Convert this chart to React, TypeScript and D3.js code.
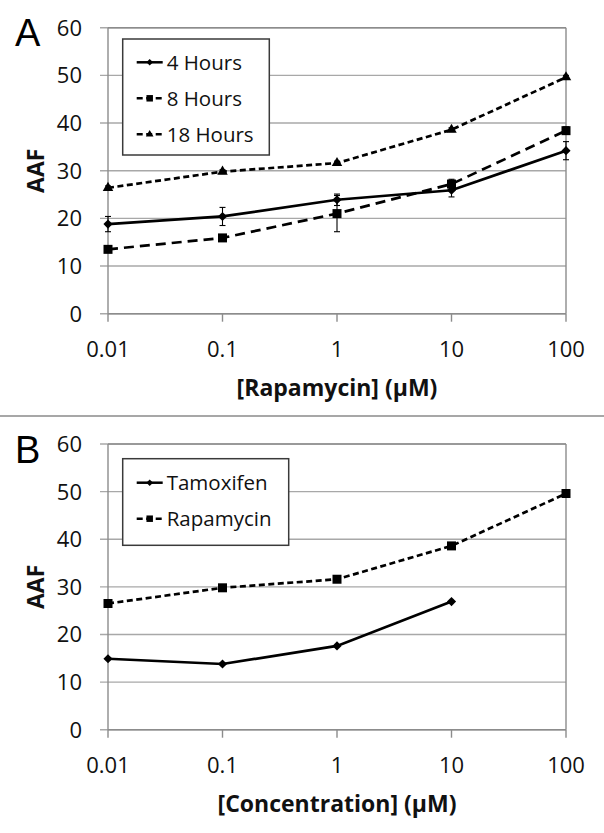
import React from "react";
import * as d3 from "d3";

const concentrations = [0.01, 0.1, 1, 10, 100];
const xTickLabels = ["0.01", "0.1", "1", "10", "100"];
const yTicks = [0, 10, 20, 30, 40, 50, 60];

const hours4 = [18.8, 20.4, 23.9, 25.9, 34.2];
const hours4Err = [1.6, 1.9, 1.2, 1.4, 1.9];
const hours8 = [13.5, 15.9, 21.0, 27.2, 38.4];
const hours8Err = [0.5, 0.5, 3.8, 1.0, 0.8];
const hours18 = [26.4, 29.8, 31.6, 38.6, 49.6];
const hours18Err = [0.4, 0.4, 0.4, 0.4, 0.4];

const tamoxifenConc = [0.01, 0.1, 1, 10];
const tamoxifen = [14.9, 13.8, 17.6, 26.9];
const rapamycinConc = [0.01, 0.1, 1, 10, 100];
const rapamycin = [26.5, 29.8, 31.6, 38.6, 49.6];

type Marker = "diamond" | "square" | "triangle";
interface Series {
  name: string;
  x: number[];
  y: number[];
  err?: number[];
  dash: string;
  marker: Marker;
}

const seriesA: Series[] = [
  { name: "4 Hours", x: concentrations, y: hours4, err: hours4Err, dash: "", marker: "diamond" },
  { name: "8 Hours", x: concentrations, y: hours8, err: hours8Err, dash: "10,6", marker: "square" },
  { name: "18 Hours", x: concentrations, y: hours18, err: hours18Err, dash: "6,3.5", marker: "triangle" },
];
const seriesB: Series[] = [
  { name: "Tamoxifen", x: tamoxifenConc, y: tamoxifen, dash: "", marker: "diamond" },
  { name: "Rapamycin", x: rapamycinConc, y: rapamycin, dash: "6,3.5", marker: "square" },
];

const FONT = "'Open Sans', 'Liberation Sans', sans-serif";

function markerPath(m: Marker, scale: number): { d: string; rot: number } {
  if (m === "diamond") return { d: d3.symbol(d3.symbolSquare, 42 * scale * scale)() || "", rot: 45 };
  if (m === "square") return { d: d3.symbol(d3.symbolSquare, 81 * scale * scale)() || "", rot: 0 };
  return { d: d3.symbol(d3.symbolTriangle, 48 * scale * scale)() || "", rot: 0 };
}

interface PanelProps {
  letter: string;
  top: number;
  bottom: number;
  xTitle: string;
  series: Series[];
  legend: { x: number; y: number; w: number; h: number; rowY: number[] };
}

function Panel({ letter, top, bottom, xTitle, series, legend }: PanelProps) {
  const left = 108;
  const right = 566;
  const x = d3.scaleLog().domain([0.01, 100]).range([left, right]);
  const y = d3.scaleLinear().domain([0, 60]).range([bottom, top]);
  const line = d3
    .line<[number, number]>()
    .x((d) => x(d[0]))
    .y((d) => y(d[1]));

  return (
    <g>
      <text x={15} y={top + 18.5} fontFamily="'Liberation Sans', Arial, sans-serif" fontSize={38}>
        {letter}
      </text>
      {yTicks.map((t) => (
        <g key={t}>
          <line x1={left - 8} x2={right} y1={y(t)} y2={y(t)} stroke="#a8a8a8" strokeWidth={1.4} />
          <text x={82} y={y(t)} dy="0.36em" textAnchor="end" fontFamily={FONT} fontSize={22} fill="#111">
            {t}
          </text>
        </g>
      ))}
      <line x1={left} x2={left} y1={top} y2={bottom} stroke="#8c8c8c" strokeWidth={1.4} />
      <line x1={right} x2={right} y1={top} y2={bottom} stroke="#8c8c8c" strokeWidth={1.4} />
      <line x1={left} x2={right} y1={top} y2={top} stroke="#8c8c8c" strokeWidth={1.4} />
      <line x1={left} x2={right} y1={bottom} y2={bottom} stroke="#8c8c8c" strokeWidth={1.4} />
      {concentrations.map((c, i) => (
        <g key={c}>
          <line x1={x(c)} x2={x(c)} y1={bottom} y2={bottom + 8} stroke="#8c8c8c" strokeWidth={1.4} />
          <text x={x(c)} y={bottom + 35} dy="0.36em" textAnchor="middle" fontFamily={FONT} fontSize={22} fill="#111">
            {xTickLabels[i]}
          </text>
        </g>
      ))}
      <text
        x={(left + right) / 2}
        y={bottom + 74}
        dy="0.36em"
        textAnchor="middle"
        fontFamily={FONT}
        fontWeight="bold"
        fontSize={23}
        fill="#111"
      >
        {xTitle}
      </text>
      <text
        transform={`translate(36,${(top + bottom) / 2}) rotate(-90)`}
        dy="0.36em"
        textAnchor="middle"
        fontFamily={FONT}
        fontWeight="bold"
        fontSize={23}
        fill="#111"
      >
        AAF
      </text>
      {series.map((s) => {
        const pts = s.x.map((v, i) => [v, s.y[i]] as [number, number]);
        const mk = markerPath(s.marker, 1);
        return (
          <g key={s.name}>
            <path d={line(pts) || ""} fill="none" stroke="#000" strokeWidth={2.7} strokeDasharray={s.dash} />
            {s.err &&
              pts.map((p, i) => {
                const e = s.err![i];
                const cx = x(p[0]);
                return (
                  <g key={i} stroke="#000" strokeWidth={1.1}>
                    <line x1={cx} x2={cx} y1={y(p[1] - e)} y2={y(p[1] + e)} />
                    <line x1={cx - 3} x2={cx + 3} y1={y(p[1] - e)} y2={y(p[1] - e)} />
                    <line x1={cx - 3} x2={cx + 3} y1={y(p[1] + e)} y2={y(p[1] + e)} />
                  </g>
                );
              })}
            {pts.map((p, i) => (
              <path
                key={i}
                d={mk.d}
                transform={`translate(${x(p[0])},${y(p[1])}) rotate(${mk.rot})`}
                fill="#000"
              />
            ))}
          </g>
        );
      })}
      <rect
        x={legend.x}
        y={legend.y}
        width={legend.w}
        height={legend.h}
        fill="#fff"
        stroke="#3a3a3a"
        strokeWidth={1.5}
      />
      {series.map((s, i) => {
        const ly = legend.rowY[i];
        const mk = markerPath(s.marker, 0.72);
        return (
          <g key={s.name}>
            <line
              x1={legend.x + 14}
              x2={legend.x + 40}
              y1={ly}
              y2={ly}
              stroke="#000"
              strokeWidth={2.5}
              strokeDasharray={s.dash ? "6,3.5" : ""}
            />
            <path d={mk.d} transform={`translate(${legend.x + 27},${ly}) rotate(${mk.rot})`} fill="#000" />
            <text x={legend.x + 44} y={ly} dy="0.36em" fontFamily={FONT} fontSize={20.5} fill="#111">
              {s.name}
            </text>
          </g>
        );
      })}
    </g>
  );
}

export default function App() {
  return (
    <svg
      width={604}
      height={833}
      style={{ position: "absolute", left: 0, top: 0, background: "#fff" }}
    >
      <rect x={0} y={0} width={604} height={833} fill="#fff" />
      <Panel
        letter="A"
        top={27.7}
        bottom={313.7}
        xTitle="[Rapamycin] (μM)"
        series={seriesA}
        legend={{ x: 122.7, y: 39, w: 146.6, h: 116, rowY: [62.3, 98.3, 134.3] }}
      />
      <line x1={0} x2={604} y1={416} y2={416} stroke="#8a8a8a" strokeWidth={1.6} />
      <Panel
        letter="B"
        top={444}
        bottom={729.7}
        xTitle="[Concentration] (μM)"
        series={seriesB}
        legend={{ x: 122.7, y: 458.7, w: 166, h: 86.6, rowY: [482.7, 518.7] }}
      />
    </svg>
  );
}
